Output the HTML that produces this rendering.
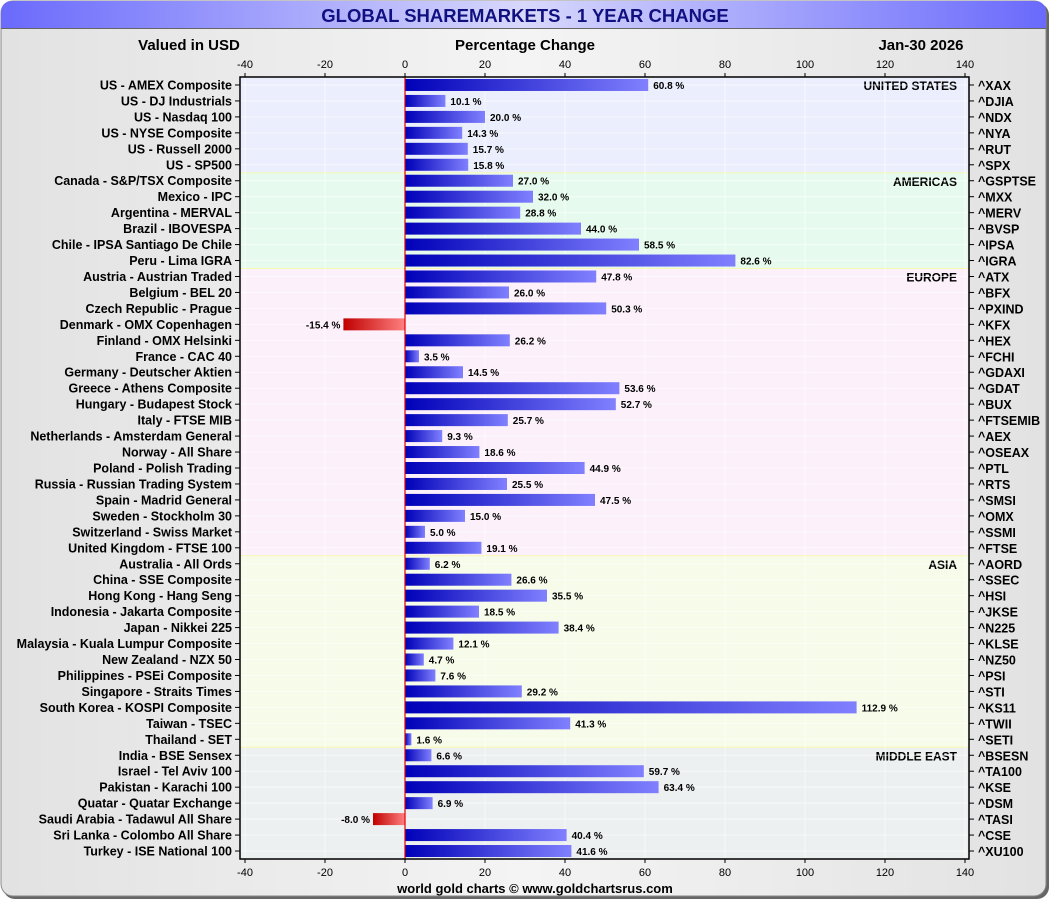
<!DOCTYPE html>
<html><head><meta charset="utf-8"><style>
body{margin:0;width:1050px;height:900px;overflow:hidden;background:#fff;font-family:"Liberation Sans",sans-serif}
</style></head><body>
<svg id="c" width="1050" height="900" xmlns="http://www.w3.org/2000/svg">
<defs>
<linearGradient id="bg" x1="0" x2="1"><stop offset="0" stop-color="#e2e2e2"/><stop offset="0.5" stop-color="#f4f4f4"/><stop offset="1" stop-color="#e2e2e2"/></linearGradient>
<linearGradient id="tb" x1="0" x2="1"><stop offset="0" stop-color="#6a6afc"/><stop offset="0.5" stop-color="#d8d8fc"/><stop offset="1" stop-color="#6a6afc"/></linearGradient>
<linearGradient id="pos" x1="0" x2="1"><stop offset="0" stop-color="#0000b8"/><stop offset="1" stop-color="#8080ff"/></linearGradient>
<linearGradient id="neg" x1="0" x2="1"><stop offset="0" stop-color="#c00000"/><stop offset="1" stop-color="#ff8080"/></linearGradient>
</defs>
<rect x="3" y="3" width="1046" height="896" rx="12" fill="#666"/>
<rect x="1" y="1" width="1045" height="895" rx="12" fill="url(#bg)" stroke="#888"/>
<path d="M1 28 V13 Q1 1 13 1 H1034 Q1046 1 1046 13 V28 Z" fill="url(#tb)"/>
<line x1="1" y1="28.5" x2="1046" y2="28.5" stroke="#666"/>
<text x="525" y="22" text-anchor="middle" font-size="18.5" font-weight="bold" fill="#101080">GLOBAL SHAREMARKETS - 1 YEAR CHANGE</text>
<text x="189" y="50" text-anchor="middle" font-size="15" font-weight="bold">Valued in USD</text>
<text x="525" y="50" text-anchor="middle" font-size="15" font-weight="bold">Percentage Change</text>
<text x="921" y="50" text-anchor="middle" font-size="15" font-weight="bold">Jan-30  2026</text>
<g id="plot"></g>
<text x="535" y="893" text-anchor="middle" font-size="13" font-weight="bold">world gold charts © www.goldchartsrus.com</text>
</svg>
<script>
const names=["US - AMEX Composite","US - DJ Industrials","US - Nasdaq 100","US - NYSE Composite","US - Russell 2000","US - SP500","Canada - S&P/TSX Composite","Mexico - IPC","Argentina - MERVAL","Brazil - IBOVESPA","Chile - IPSA Santiago De Chile","Peru - Lima IGRA","Austria - Austrian Traded","Belgium - BEL 20","Czech Republic - Prague","Denmark - OMX Copenhagen","Finland - OMX Helsinki","France - CAC 40","Germany - Deutscher Aktien","Greece - Athens Composite","Hungary - Budapest Stock","Italy - FTSE MIB","Netherlands - Amsterdam General","Norway - All Share","Poland - Polish Trading","Russia - Russian Trading System","Spain - Madrid General","Sweden - Stockholm 30","Switzerland - Swiss Market","United Kingdom - FTSE 100","Australia - All Ords","China - SSE Composite","Hong Kong - Hang Seng","Indonesia - Jakarta Composite","Japan - Nikkei 225","Malaysia - Kuala Lumpur Composite","New Zealand - NZX 50","Philippines - PSEi Composite","Singapore - Straits Times","South Korea - KOSPI Composite","Taiwan - TSEC","Thailand - SET","India - BSE Sensex","Israel - Tel Aviv 100","Pakistan - Karachi 100","Quatar - Quatar Exchange","Saudi Arabia - Tadawul All Share","Sri Lanka - Colombo All Share","Turkey - ISE National 100"];
const tickers=["^XAX","^DJIA","^NDX","^NYA","^RUT","^SPX","^GSPTSE","^MXX","^MERV","^BVSP","^IPSA","^IGRA","^ATX","^BFX","^PXIND","^KFX","^HEX","^FCHI","^GDAXI","^GDAT","^BUX","^FTSEMIB","^AEX","^OSEAX","^PTL","^RTS","^SMSI","^OMX","^SSMI","^FTSE","^AORD","^SSEC","^HSI","^JKSE","^N225","^KLSE","^NZ50","^PSI","^STI","^KS11","^TWII","^SETI","^BSESN","^TA100","^KSE","^DSM","^TASI","^CSE","^XU100"];
const values=[60.8,10.1,20.0,14.3,15.7,15.8,27.0,32.0,28.8,44.0,58.5,82.6,47.8,26.0,50.3,-15.4,26.2,3.5,14.5,53.6,52.7,25.7,9.3,18.6,44.9,25.5,47.5,15.0,5.0,19.1,6.2,26.6,35.5,18.5,38.4,12.1,4.7,7.6,29.2,112.9,41.3,1.6,6.6,59.7,63.4,6.9,-8.0,40.4,41.6];
const regions=["UNITED STATES","AMERICAS","EUROPE","ASIA","MIDDLE EAST"];
const regionStart=[0,6,12,30,42];
const regionEnd=[6,12,30,42,49];
const regionColors=["#ebeefc","#e6fbee","#fcf0fa","#f7fbe9","#edf0f0"];
const ticks=[-40,-20,0,20,40,60,80,100,120,140];
const NS="http://www.w3.org/2000/svg";
const g=document.getElementById('plot');
const L=240,R=969,T=77,B=859,rowH=(B-T)/names.length;
const x=v=>405+(v)*4;
const y=i=>T+i*rowH;
function mk(t,a,p){const e=document.createElementNS(NS,t);for(const k in a)e.setAttribute(k,a[k]);(p||g).appendChild(e);return e;}
regions.forEach((r,k)=>{
  const e=mk('rect',{x:L,y:y(regionStart[k]),width:R-L,height:(regionEnd[k]-regionStart[k])*rowH,fill:regionColors[k]});
  
  
  if(k>0)mk('line',{x1:L,x2:R,y1:y(regionStart[k]),y2:y(regionStart[k]),stroke:'#f8f8b0'});
  const t=mk('text',{x:957,y:y(regionStart[k])+13,'text-anchor':'end','font-size':12,'font-weight':'bold'});
  t.textContent=r;
  
  
});
for(let i=0;i<names.length;i++)mk('line',{x1:L,x2:R,y1:y(i)+rowH/2,y2:y(i)+rowH/2,stroke:'#fff','stroke-opacity':0.6});
ticks.forEach(v=>{
  mk('line',{x1:x(v),x2:x(v),y1:T,y2:B,stroke:'#fff','stroke-opacity':0.6});
  [[T,T-4,68],[B,B+4,876]].forEach(([a,b,ty])=>{
    mk('line',{x1:x(v),x2:x(v),y1:a,y2:b,stroke:'#000'});
    const t=mk('text',{x:x(v),y:ty,'text-anchor':'middle','font-size':11});
    t.textContent=v;
    
    
  });
});
values.forEach((v,i)=>{
  const cy=y(i)+rowH/2;
  const b=mk('rect',{x:v>=0?x(0):x(v),y:cy-6,width:Math.abs(v)*4,height:12,fill:v>=0?'url(#pos)':'url(#neg)'});
  
  
  const vl=mk('text',{x:v>=0?x(v)+5:x(v)-3,y:cy+4,'text-anchor':v>=0?'start':'end','font-size':10,'font-weight':'bold'});
  vl.textContent=v.toFixed(1)+' %';
  
  
  mk('line',{x1:L-5,x2:L,y1:cy,y2:cy,stroke:'#000'});
  mk('line',{x1:R,x2:R+5,y1:cy,y2:cy,stroke:'#000'});
  const n=mk('text',{x:L-8,y:cy+4.5,'text-anchor':'end','font-size':12.5,'font-weight':'bold'});
  n.textContent=names[i];
  
  
  const tk=mk('text',{x:R+9,y:cy+5,'font-size':12.5,'font-weight':'bold'});
  tk.textContent=tickers[i];
  
  
});
mk('line',{x1:x(0),x2:x(0),y1:T,y2:B,stroke:'#e00000','stroke-width':1.2});
mk('rect',{x:L,y:T,width:R-L,height:B-T,fill:'none',stroke:'#000','stroke-width':1.5});
</script>
</body></html>
